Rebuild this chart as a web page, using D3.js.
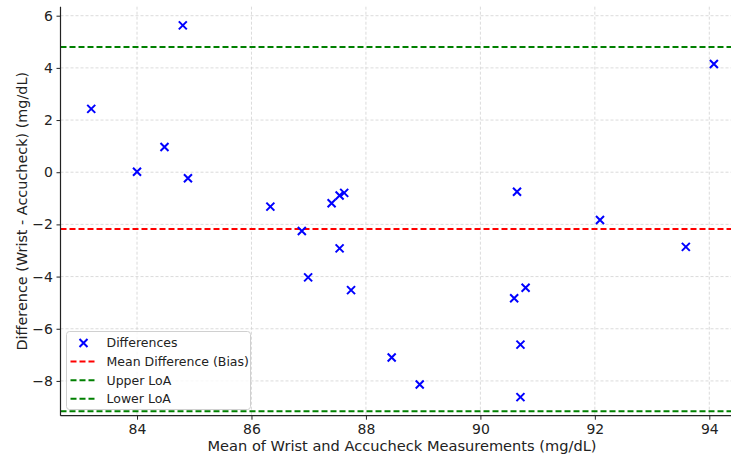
<!DOCTYPE html>
<html>
<head>
<meta charset="utf-8">
<script src="https://cdn.jsdelivr.net/npm/d3@7"></script>
<style>
  body { margin: 0; background: #fff; }
  text { font-family: "DejaVu Sans", sans-serif; fill: #222; }
</style>
</head>
<body>
<div id="chart"></div>
<script>
// data
var meanVals = [83.20, 84.80, 84.00, 84.48, 84.89, 86.33, 87.40, 87.54, 87.62, 86.88, 87.54, 86.99,
                87.74, 88.45, 88.94, 90.70, 90.70, 92.09, 93.59, 90.79, 90.59, 94.08, 90.64];
var diffVals = [2.43, 5.63, 0.02, 0.97, -0.23, -1.32, -1.19, -0.89, -0.79, -2.25, -2.92, -4.03,
                -4.52, -7.10, -8.14, -6.61, -8.62, -1.83, -2.86, -4.43, -4.83, 4.15, -0.75];
var bias = -2.18;
var upperLoA = 4.80;
var lowerLoA = -9.16;
var xTicks = [84, 86, 88, 90, 92, 94];
var yTicks = [-8, -6, -4, -2, 0, 2, 4, 6];
var legendLabels = ["Differences", "Mean Difference (Bias)", "Upper LoA", "Lower LoA"];

var W = 732, H = 458;
var pL = 60.5, pR = 731, pT = 6.7, pB = 415.7;
// the plot area runs on past the right edge of the picture
var pRfull = 743.5;

var svg = d3.select("#chart").append("svg")
    .attr("width", W)
    .attr("height", H);

var x = d3.scaleLinear().domain([82.663, 94.379]).range([pL, pR]);
var y = d3.scaleLinear().domain([-9.333, 6.345]).range([pB, pT]);

// grid
var grid = svg.append("g");
grid.selectAll("line.gx").data(xTicks).enter().append("line")
    .attr("x1", function(d){ return x(d); })
    .attr("x2", function(d){ return x(d); })
    .attr("y1", pT).attr("y2", pB)
    .attr("stroke", "#d2d2d2").attr("stroke-width", 0.8)
    .attr("stroke-dasharray", "3,2");
grid.selectAll("line.gy").data(yTicks).enter().append("line")
    .attr("y1", function(d){ return y(d); })
    .attr("y2", function(d){ return y(d); })
    .attr("x1", pL).attr("x2", pR)
    .attr("stroke", "#d2d2d2").attr("stroke-width", 0.8)
    .attr("stroke-dasharray", "3,2");

// reference lines
var refs = [
  {v: bias, c: "red"},
  {v: upperLoA, c: "green"},
  {v: lowerLoA, c: "green"}
];
svg.selectAll("line.ref").data(refs).enter().append("line")
    .attr("x1", pL).attr("x2", pR)
    .attr("y1", function(d){ return y(d.v); })
    .attr("y2", function(d){ return y(d.v); })
    .attr("stroke", function(d){ return d.c; })
    .attr("stroke-width", 2)
    .attr("stroke-dasharray", "6,3");

// points as x markers
var pts = svg.append("g");
var s = 4;
meanVals.forEach(function(m, i) {
  var cx = x(m), cy = y(diffVals[i]);
  pts.append("path")
     .attr("d", "M" + (cx - s) + "," + (cy - s) + "L" + (cx + s) + "," + (cy + s) +
                "M" + (cx - s) + "," + (cy + s) + "L" + (cx + s) + "," + (cy - s))
     .attr("stroke", "blue")
     .attr("stroke-width", 2)
     .attr("fill", "none");
});

// axes
var fmt = function(d){ return d < 0 ? "\u2212" + Math.abs(d) : d; };
var xAxis = svg.append("g")
    .attr("transform", "translate(0," + pB + ")")
    .call(d3.axisBottom(x).tickValues(xTicks).tickSizeOuter(0).tickSize(4).tickPadding(4));
var yAxis = svg.append("g")
    .attr("transform", "translate(" + pL + ",0)")
    .call(d3.axisLeft(y).tickValues(yTicks).tickFormat(fmt).tickSizeOuter(0).tickSize(4).tickPadding(3.5));
[xAxis, yAxis].forEach(function(a) {
  a.select(".domain").attr("stroke", "#222").attr("stroke-width", 1.2)
  a.selectAll(".tick line").attr("stroke", "#222").attr("stroke-width", 1);
  a.selectAll(".tick text").style("font-size", "14px").attr("fill", "#222")
    .style("font-family", "DejaVu Sans, sans-serif");
});
xAxis.select(".domain").attr("d", "M" + pL + ",0H" + pR);
yAxis.select(".domain").attr("d", "M0," + pT + "V" + pB);

// axis titles
svg.append("text")
    .attr("x", (pL + pRfull) / 2).attr("y", 451)
    .attr("text-anchor", "middle")
    .style("font-size", "14.6px")
    .text("Mean of Wrist and Accucheck Measurements (mg/dL)");
svg.append("text")
    .attr("transform", "translate(27," + ((pT + pB) / 2) + ") rotate(-90)")
    .attr("text-anchor", "middle")
    .style("font-size", "14.4px")
    .text("Difference (Wrist - Accucheck) (mg/dL)");

// legend
var lg = svg.append("g").attr("transform", "translate(66.5,331.5)");
lg.append("rect")
    .attr("width", 184).attr("height", 78)
    .attr("rx", 3)
    .attr("fill", "white").attr("fill-opacity", 0.8)
    .attr("stroke", "#d0d0d0").attr("stroke-width", 1);
var lgColors = ["blue", "red", "green", "green"];
legendLabels.forEach(function(lbl, i) {
  var ly = 11.5 + i * 18.6;
  if (i === 0) {
    var cx = 17, cy = ly;
    lg.append("path")
      .attr("d", "M" + (cx - s) + "," + (cy - s) + "L" + (cx + s) + "," + (cy + s) +
                 "M" + (cx - s) + "," + (cy + s) + "L" + (cx + s) + "," + (cy - s))
      .attr("stroke", "blue").attr("stroke-width", 2).attr("fill", "none");
  } else {
    lg.append("line")
      .attr("x1", 4).attr("x2", 30)
      .attr("y1", ly).attr("y2", ly)
      .attr("stroke", lgColors[i]).attr("stroke-width", 2)
      .attr("stroke-dasharray", "6,3");
  }
  lg.append("text")
    .attr("x", 40).attr("y", ly)
    .attr("dy", "0.35em")
    .style("font-size", "12.5px")
    .attr("fill", "#333")
    .text(lbl);
});
</script>
</body>
</html>
